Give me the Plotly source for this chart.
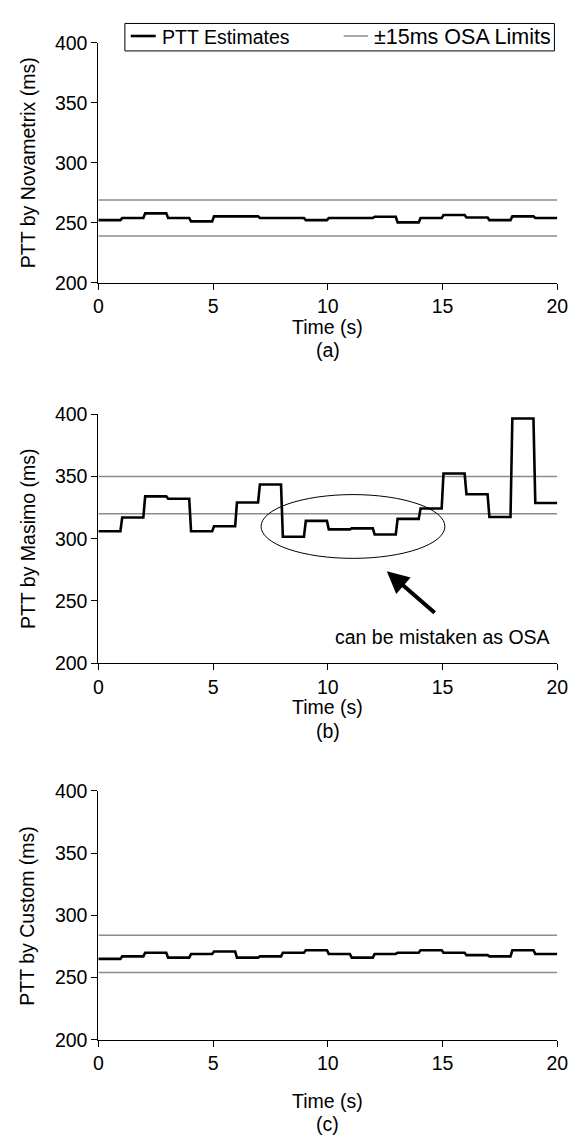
import plotly.graph_objects as go

# ---------------- data ----------------
seconds = list(range(20))  # one PTT estimate per second
novametrix_ptt = [252.2, 253.9, 257.8, 253.9, 251.1, 255.3, 255.3, 253.9, 253.9, 252.2,
                  253.9, 253.9, 255.0, 250.3, 253.9, 256.4, 254.4, 252.2, 255.3, 253.9]
masimo_ptt = [306.0, 317.0, 334.0, 332.0, 306.0, 310.0, 329.0, 343.5, 301.5, 314.3,
              307.5, 308.3, 303.3, 315.9, 324.2, 352.3, 335.7, 317.4, 396.5, 328.6]
custom_ptt = [265.0, 267.0, 270.0, 266.0, 269.0, 271.0, 266.0, 267.0, 270.0, 272.0,
              269.0, 266.0, 269.0, 270.0, 272.0, 270.0, 268.0, 267.0, 272.0, 269.0]
novametrix_limits = [239.0, 269.0]
masimo_limits = [320.0, 350.0]
custom_limits = [254.0, 284.0]
panel_names = ["Novametrix", "Masimo", "Custom"]
panel_tags = ["(a)", "(b)", "(c)"]
legend_labels = ["PTT Estimates", "±15ms OSA Limits"]
x_range = [0, 20]
y_range = [200, 400]
x_ticks = [0, 5, 10, 15, 20]
y_ticks = [200, 250, 300, 350, 400]
ellipse_x = [7.09, 15.1]
ellipse_y = [284.2, 335.4]
arrow_tip = [12.57, 273.8]
arrow_tail = [14.72, 239.4]
note_text = "can be mistaken as OSA"
note_pos = [15.0, 221.0]

W, H = 580, 1147
FONT = "Liberation Sans, Arial, Helvetica, sans-serif"
FS = 19.5
RAMP = 0.08
PTT_COLOR, LIM_COLOR = "black", "#8c8c8c"
PTT_W, LIM_W = 2.6, 1.5


def step_xy(vals):
    xs, ys = [], []
    n = len(vals)
    for i, v in enumerate(vals):
        x0 = seconds[i] if i == 0 else seconds[i] + RAMP / 2
        x1 = seconds[i] + 1 if i == n - 1 else seconds[i] + 1 - RAMP / 2
        xs += [x0, x1]
        ys += [v, v]
    return xs, ys


def px_x(p):
    return p / W


def px_y(p):
    return 1 - p / H


# plot-area pixel boxes (top, bottom) and caption offsets below the axis
boxes = [(32.5, 277.0), (411.0, 665.0), (795.0, 1049.0)]
caption_off = [(45, 69), (45, 69), (62, 86)]
x_left, x_right = 96.0, 568.0

fig = go.Figure()
series = [novametrix_ptt, masimo_ptt, custom_ptt]
limits = [novametrix_limits, masimo_limits, custom_limits]

for k in range(3):
    xa = "x" if k == 0 else f"x{k+1}"
    ya = "y" if k == 0 else f"y{k+1}"
    for lim in limits[k]:
        fig.add_trace(go.Scatter(
            x=[x_range[0], x_range[1]], y=[lim, lim], mode="lines",
            line=dict(color=LIM_COLOR, width=LIM_W), name=legend_labels[1],
            xaxis=xa, yaxis=ya, hoverinfo="skip"))
    xs, ys = step_xy(series[k])
    fig.add_trace(go.Scatter(
        x=xs, y=ys, mode="lines", line=dict(color=PTT_COLOR, width=PTT_W),
        name=legend_labels[0], xaxis=xa, yaxis=ya))

axis_common = dict(
    showgrid=False, zeroline=False, showline=True, linecolor="black", linewidth=1,
    ticks="outside", ticklen=6, tickwidth=1, tickcolor="black",
    tickfont=dict(family=FONT, size=FS, color="black"),
    mirror=False,
)

layout = dict(
    width=W, height=H, margin=dict(l=0, r=0, t=0, b=0),
    paper_bgcolor="white", plot_bgcolor="white",
    font=dict(family=FONT, size=FS, color="black"),
    showlegend=False,
)

annotations = []
shapes = []
for k in range(3):
    top, bot = boxes[k]
    xkey = "xaxis" if k == 0 else f"xaxis{k+1}"
    ykey = "yaxis" if k == 0 else f"yaxis{k+1}"
    yname = "y" if k == 0 else f"y{k+1}"
    xname = "x" if k == 0 else f"x{k+1}"
    layout[xkey] = dict(axis_common, domain=[px_x(x_left), px_x(x_right)], range=x_range,
                        tickvals=x_ticks, anchor=yname)
    layout[ykey] = dict(axis_common, domain=[px_y(bot), px_y(top)], range=y_range,
                        tickvals=y_ticks, anchor=xname)
    annotations.append(dict(
        text=f"PTT by {panel_names[k]} (ms)", textangle=-90, xref="paper", yref="paper",
        x=px_x(23), y=px_y((top + bot) / 2), xanchor="center", yanchor="middle",
        showarrow=False, font=dict(family=FONT, size=FS, color="black")))
    annotations.append(dict(
        text="Time (s)", xref="paper", yref="paper",
        x=px_x((x_left + x_right) / 2), y=px_y(bot + caption_off[k][0]),
        xanchor="center", yanchor="middle", showarrow=False,
        font=dict(family=FONT, size=FS, color="black")))
    annotations.append(dict(
        text=panel_tags[k], xref="paper", yref="paper",
        x=px_x((x_left + x_right) / 2), y=px_y(bot + caption_off[k][1]),
        xanchor="center", yanchor="middle", showarrow=False,
        font=dict(family=FONT, size=FS, color="black")))

# legend (drawn box, samples and labels)
shapes.append(dict(type="rect", xref="paper", yref="paper",
                   x0=px_x(123.3), x1=px_x(565), y0=px_y(40.7), y1=px_y(12.7),
                   line=dict(color="black", width=1), fillcolor="white", layer="above"))
shapes.append(dict(type="line", xref="paper", yref="paper",
                   x0=px_x(129.3), x1=px_x(155), y0=px_y(25.5), y1=px_y(25.5),
                   line=dict(color=PTT_COLOR, width=PTT_W), layer="above"))
shapes.append(dict(type="line", xref="paper", yref="paper",
                   x0=px_x(348.3), x1=px_x(373.3), y0=px_y(25.5), y1=px_y(25.5),
                   line=dict(color=LIM_COLOR, width=LIM_W), layer="above"))
annotations.append(dict(text=legend_labels[0], xref="paper", yref="paper",
                        x=px_x(159), y=px_y(26.5), xanchor="left", yanchor="middle",
                        showarrow=False, font=dict(family=FONT, size=FS, color="black")))
annotations.append(dict(text=legend_labels[1], xref="paper", yref="paper",
                        x=px_x(377), y=px_y(26.5), xanchor="left", yanchor="middle",
                        showarrow=False, font=dict(family=FONT, size=21.5, color="black")))

# annotation on panel (b)
annotations.append(dict(
    x=arrow_tip[0], y=arrow_tip[1], ax=arrow_tail[0], ay=arrow_tail[1],
    xref="x2", yref="y2", axref="x2", ayref="y2", text="", showarrow=True,
    arrowhead=2, arrowsize=1.1, arrowwidth=4, arrowcolor="black"))
annotations.append(dict(
    x=note_pos[0], y=note_pos[1], xref="x2", yref="y2", text=note_text,
    xanchor="center", yanchor="middle",
    showarrow=False, font=dict(family=FONT, size=FS, color="black")))
shapes.append(dict(
    type="circle", xref="x2", yref="y2", x0=ellipse_x[0], x1=ellipse_x[1],
    y0=ellipse_y[0], y1=ellipse_y[1], line=dict(color="black", width=1)))

layout["annotations"] = annotations
layout["shapes"] = shapes

fig.update_layout(**layout)
fig.write_html("out.html")
